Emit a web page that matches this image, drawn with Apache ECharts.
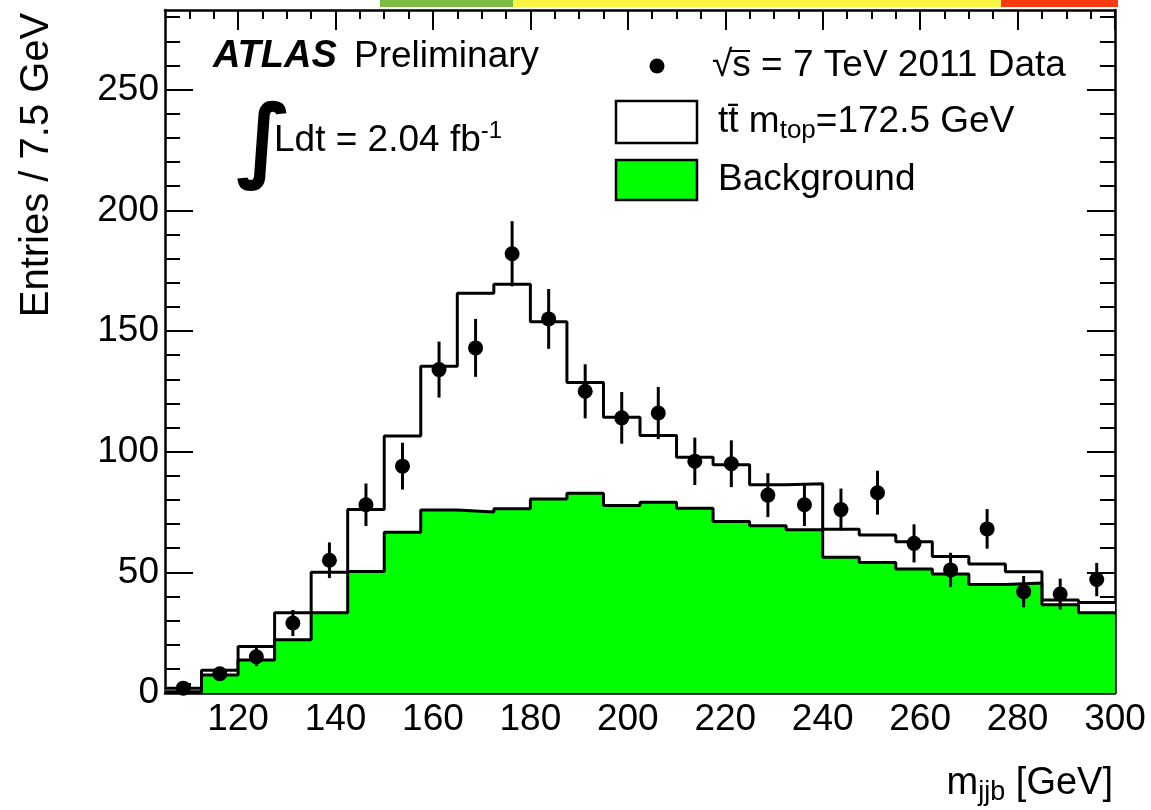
<!DOCTYPE html>
<html>
<head>
<meta charset="utf-8">
<script src="https://cdn.jsdelivr.net/npm/echarts@6/dist/echarts.min.js"></script>
<style>
html,body{margin:0;padding:0;background:#fff;}
#chart{width:1151px;height:810px;}
</style>
</head>
<body>
<div id="chart"></div>
<script>
// ---- data ----
const binEdges = [105,112.5,120,127.5,135,142.5,150,157.5,165,172.5,180,187.5,195,202.5,210,217.5,225,232.5,240,247.5,255,262.5,270,277.5,285,292.5,300];
const dataCounts = [2,8,15,29,55,78,94,134,143,182,155,125,114,116,96,95,82,78,76,83,62,51,68,42,41,47];
const dataErrors = [1.4,2.8,3.9,5.4,7.4,8.8,9.7,11.6,12.0,13.5,12.4,11.2,10.7,10.8,9.8,9.7,9.1,8.8,8.7,9.1,7.9,7.1,8.2,6.5,6.4,6.9];
const background = [0.5,7.5,13.7,22.1,33.2,50.3,66.6,75.8,75.0,76.3,80.4,82.8,77.7,79.0,76.5,71.1,69.3,67.6,56.2,54.1,51.4,49.3,45.0,45.6,36.6,33.3];
const ttbar = [1.5,1.9,5.6,11.1,16.8,25.7,39.9,59.6,90.6,93.1,73.4,45.9,36.6,27.7,21.2,23.5,17.0,19.1,11.6,11.4,11.3,7.3,8.4,4.6,1.9,4.2];
const xMajorTicks = [120,140,160,180,200,220,240,260,280,300];
const xMinorTicks = [110,115,125,130,135,145,150,155,165,170,175,185,190,195,205,210,215,225,230,235,245,250,255,265,270,275,285,290,295];
const yMajorTicks = [0,50,100,150,200,250];
const yMinorTicks = [10,20,30,40,60,70,80,90,110,120,130,140,160,170,180,190,210,220,230,240,260,270,280];

const FONT = "'Liberation Sans', Arial, Helvetica, sans-serif";
const X_MIN = 105, X_MAX = 300, Y_MIN = 0, Y_MAX = 283;

const total = background.map((b, i) => b + ttbar[i]);
function stepData(vals) {
  const d = vals.map((v, i) => [binEdges[i], v]);
  d.push([binEdges[binEdges.length - 1], vals[vals.length - 1]]);
  return d;
}
const points = dataCounts.map((v, i) => [(binEdges[i] + binEdges[i + 1]) / 2, v, dataErrors[i]]);

function xAxis(position, ticks, len, showLabel, showLine) {
  return {
    type: 'value', min: X_MIN, max: X_MAX, position: position,
    axisLine: {show: showLine, onZero: false, lineStyle: {color: '#000', width: 2.5}},
    axisTick: {show: true, inside: true, length: len, customValues: ticks, lineStyle: {color: '#000', width: 2}},
    axisLabel: {show: showLabel, customValues: ticks, color: '#000', fontSize: 37, fontFamily: FONT, margin: 8},
    splitLine: {show: false}
  };
}
function yAxis(position, ticks, len, showLabel, showLine) {
  return {
    type: 'value', min: Y_MIN, max: Y_MAX, position: position,
    axisLine: {show: showLine, onZero: false, lineStyle: {color: '#000', width: 2.5}},
    axisTick: {show: true, inside: true, length: len, customValues: ticks, lineStyle: {color: '#000', width: 2}},
    axisLabel: {show: showLabel, customValues: ticks, color: '#000', fontSize: 37, fontFamily: FONT, margin: 6},
    splitLine: {show: false}
  };
}

const chart = echarts.init(document.getElementById('chart'), null, {renderer: 'canvas'});
chart.setOption({
  animation: false,
  backgroundColor: '#fff',
  grid: {left: 165, right: 36, top: 10, bottom: 117, containLabel: false},
  xAxis: [
    xAxis('bottom', xMajorTicks, 20, true, true),
    xAxis('bottom', xMinorTicks, 10, false, false),
    xAxis('top', xMajorTicks, 20, false, true),
    xAxis('top', xMinorTicks, 9, false, false)
  ],
  yAxis: [
    yAxis('left', yMajorTicks, 28, true, true),
    yAxis('left', yMinorTicks, 15, false, false),
    yAxis('right', yMajorTicks, 28, false, true),
    yAxis('right', yMinorTicks, 15, false, false)
  ],
  series: [
    {
      name: 'ttbar+bkg', type: 'line', step: 'end', data: stepData(total),
      symbol: 'none', lineStyle: {color: '#000', width: 3},
      areaStyle: {color: '#ffffff', opacity: 1}, z: 2
    },
    {
      name: 'Background', type: 'line', step: 'end', data: stepData(background),
      symbol: 'none', lineStyle: {color: '#000', width: 3},
      areaStyle: {color: '#00ff00', opacity: 1}, z: 3
    },
    {
      name: 'errors', type: 'custom', data: points, z: 4,
      renderItem: function (params, api) {
        const x = api.value(0), y = api.value(1), e = api.value(2);
        const p1 = api.coord([x, y - e]);
        const p2 = api.coord([x, y + e]);
        return {type: 'line', shape: {x1: p1[0], y1: p1[1], x2: p2[0], y2: p2[1]},
                style: {stroke: '#000', lineWidth: 3}};
      }
    },
    {
      name: 'Data', type: 'scatter', data: points.map(p => [p[0], p[1]]),
      symbol: 'circle', symbolSize: 15, itemStyle: {color: '#000', opacity: 1}, z: 5
    }
  ],
  graphic: [
    // top colour strip
    {type: 'rect', shape: {x: 380, y: 0, width: 133, height: 7}, style: {fill: '#7bbd43'}},
    {type: 'rect', shape: {x: 513, y: 0, width: 488, height: 7}, style: {fill: '#fbf543'}},
    {type: 'rect', shape: {x: 1001, y: 0, width: 117, height: 7}, style: {fill: '#f93a12'}},
    // ATLAS label
    {type: 'text', x: 213, y: 57, style: {text: 'ATLAS', fontSize: 38, fontFamily: FONT, fontWeight: 'bold', fontStyle: 'italic', fill: '#000', verticalAlign: 'middle'}},
    {type: 'text', x: 354, y: 57, style: {text: 'Preliminary', fontSize: 37, fontFamily: FONT, fill: '#000', verticalAlign: 'middle'}},
    {type: 'text', x: 236, y: 146, style: {text: '\u222B', fontSize: 92, fontFamily: "'DejaVu Sans', sans-serif", fontWeight: 'bold', fill: '#000', verticalAlign: 'middle'}},
    {type: 'text', x: 274, y: 141, style: {
      text: '{a|Ldt = 2.04 fb}{s|-1}', verticalAlign: 'middle', fill: '#000',
      rich: {a: {fontSize: 37, fontFamily: FONT, lineHeight: 44, fill: '#000'},
             s: {fontSize: 24, fontFamily: FONT, lineHeight: 24, verticalAlign: 'top', fill: '#000'}}}},
    // legend
    {type: 'circle', shape: {cx: 657, cy: 66, r: 7.5}, style: {fill: '#000'}},
    {type: 'text', x: 712, y: 66, style: {text: '\u221As = 7 TeV 2011 Data', fontSize: 37, fontFamily: FONT, fill: '#000', verticalAlign: 'middle'}},
    {type: 'line', shape: {x1: 729, y1: 51, x2: 750, y2: 51}, style: {stroke: '#000', lineWidth: 2}},
    {type: 'rect', shape: {x: 616, y: 101, width: 81, height: 42}, style: {fill: '#fff', stroke: '#000', lineWidth: 2.5}},
    {type: 'text', x: 718, y: 122, style: {
      text: '{a|tt\u0304 m}{b|top}{a|=172.5 GeV}', verticalAlign: 'middle', fill: '#000',
      rich: {a: {fontSize: 37, fontFamily: FONT, lineHeight: 44, fill: '#000'},
             b: {fontSize: 26, fontFamily: FONT, lineHeight: 26, verticalAlign: 'bottom', fill: '#000'}}}},
    {type: 'rect', shape: {x: 616, y: 160, width: 81, height: 40}, style: {fill: '#00ff00', stroke: '#000', lineWidth: 2.5}},
    {type: 'text', x: 718, y: 180, style: {text: 'Background', fontSize: 37, fontFamily: FONT, fill: '#000', verticalAlign: 'middle'}},
    // axis titles
    {type: 'text', x: 37, y: 165, rotation: Math.PI / 2, style: {text: 'Entries / 7.5 GeV', fontSize: 40, fontFamily: FONT, fill: '#000', textAlign: 'center', verticalAlign: 'middle'}},
    {type: 'text', x: 1113, y: 784, style: {
      text: '{a|m}{b|jjb}{a| [GeV]}', textAlign: 'right', verticalAlign: 'middle', fill: '#000',
      rich: {a: {fontSize: 38, fontFamily: FONT, lineHeight: 44, fill: '#000'},
             b: {fontSize: 27, fontFamily: FONT, lineHeight: 24, verticalAlign: 'bottom', fill: '#000'}}}}
  ]
});
</script>
</body>
</html>
